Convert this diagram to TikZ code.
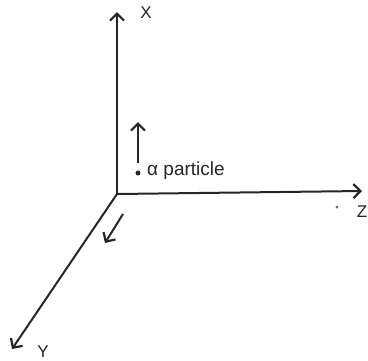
\documentclass[tikz,border=0pt]{standalone}
\usepackage{fontspec}
\setmainfont{Liberation Sans}
\usetikzlibrary{arrows.meta}
\begin{document}
\begin{tikzpicture}[x=1pt,y=-1pt,
  axis/.style={line width=2pt,draw=black!85,-{Straight Barb[length=7pt,width=14pt,line width=2.2pt]}},
  lbl/.style={inner sep=0pt,font=\fontsize{17}{17}\selectfont,text=black!85}]
\useasboundingbox (0,0) rectangle (368,360);
\coordinate (O) at (117,194);
\coordinate (Xt) at (117,12);
\coordinate (Zt) at (362,191);
\coordinate (Yt) at (12,349);
\draw[axis] (O) -- (Xt);
\draw[axis] (O) -- (Zt);
\draw[axis] (O) -- (Yt);
\node[lbl] (xl) at (146,13) {X};
\node[lbl,anchor=east] (zl) at (367.5,212) {Z};
\node[lbl,anchor=base] (yl) at (43,357) {Y};
% alpha particle
\node[circle,fill=black!85,inner sep=0pt,minimum size=5pt] (dot) at (138,173) {};
\coordinate (a1) at (138,163);
\coordinate (a2) at (138,122);
\draw[axis] (a1) -- (a2);
\node[lbl,anchor=west,font=\fontsize{19}{19}\selectfont] (al) at (147,171) {α particle};
% small arrow near Y
\coordinate (b1) at (123,214);
\coordinate (b2) at (105,243);
\draw[axis] (b1) -- (b2);
% dot near Z
\node[circle,fill=black!60,inner sep=0pt,minimum size=3pt] (zd) at (337,207) {};
\end{tikzpicture}
\end{document}
